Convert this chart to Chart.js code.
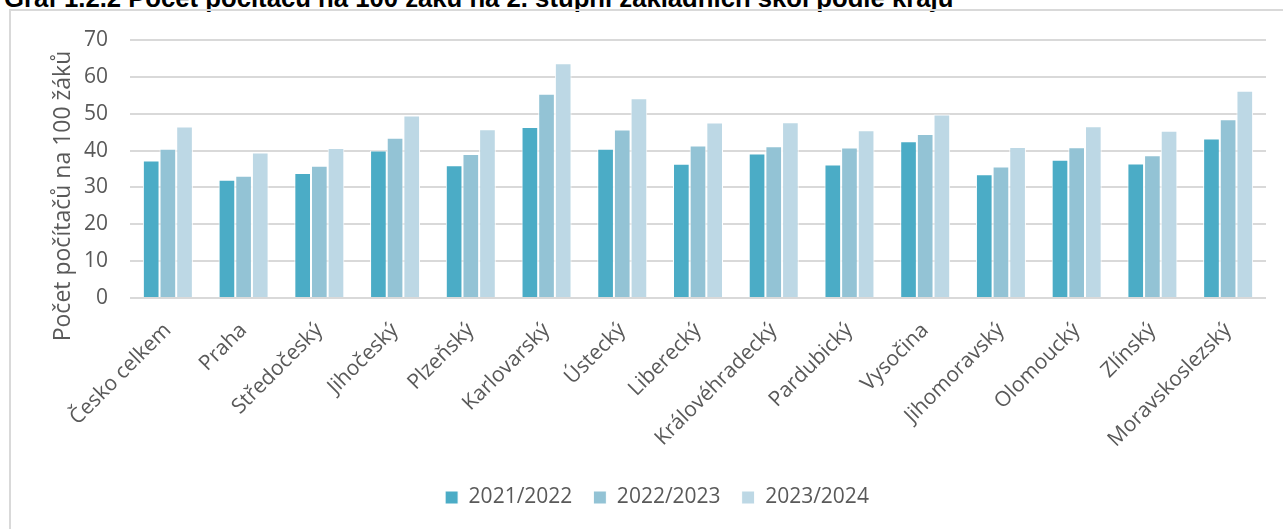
<!DOCTYPE html>
<html>
<head>
<meta charset="utf-8">
<script src="https://cdn.jsdelivr.net/npm/chart.js@4.4.0/dist/chart.umd.min.js"></script>
<style>
  html, body { margin: 0; padding: 0; background: #fff; overflow: hidden; }
  #title {
    position: absolute; left: 4px; top: -16px; white-space: nowrap; line-height: 25px;
    font: bold 25.7px "Liberation Sans", Arial, sans-serif; color: #000;
  }
  #frame {
    position: absolute; left: 9px; top: 9px; width: 1300px; height: 540px;
    border: 2px solid #d9d9d9;
  }
  #wrap { position: absolute; left: 0; top: 0; width: 1283px; height: 529px; }
</style>
</head>
<body>
<div id="title">Graf 1.2.2 Počet počítačů na 100 žáků na 2. stupni základních škol podle krajů</div>
<div id="frame"></div>
<div id="wrap"><canvas id="chart"></canvas></div>
<script>
// categories and series
const regions = ["Česko celkem", "Praha", "Středočeský", "Jihočeský", "Plzeňský", "Karlovarský",
    "Ústecký", "Liberecký", "Královéhradecký", "Pardubický", "Vysočina", "Jihomoravský",
    "Olomoucký", "Zlínský", "Moravskoslezský"];
const years = ["2021/2022", "2022/2023", "2023/2024"];
const values2122 = [37.3, 32.1, 33.9, 40.0, 36.0, 46.4, 40.5, 36.4, 39.2, 36.2, 42.5, 33.6, 37.5, 36.5, 43.3];
const values2223 = [40.5, 33.2, 35.9, 43.5, 39.1, 55.4, 45.7, 41.4, 41.2, 40.8, 44.5, 35.7, 40.9, 38.7, 48.5];
const values2324 = [46.5, 39.5, 40.7, 49.5, 45.8, 63.7, 54.2, 47.6, 47.7, 45.5, 49.8, 41.0, 46.6, 45.4, 56.2];
const yTicks = [0, 10, 20, 30, 40, 50, 60, 70];
const yTitle = "Počet počítačů na 100 žáků";

const colors = ["#4bacc6", "#93c3d5", "#bdd8e5"];
const grey = "#595959";
const fontFamily = '"Open Sans", "Noto Sans", sans-serif';

// y axis title drawn at the spot used in the reference (not centered on the plot)
const yTitlePlugin = {
    id: 'yTitle',
    afterDraw(chart) {
        const ctx = chart.ctx;
        ctx.save();
        ctx.translate(63, 196);
        ctx.rotate(-Math.PI / 2);
        ctx.font = '23px ' + fontFamily;
        ctx.fillStyle = grey;
        ctx.textAlign = 'center';
        ctx.textBaseline = 'middle';
        ctx.fillText(yTitle, 0, 0);
        ctx.restore();
    }
};

const seriesValues = [values2122, values2223, values2324];

new Chart(document.getElementById('chart').getContext('2d'), {
    type: 'bar',
    data: {
        labels: regions,
        datasets: years.map((y, i) => ({
            label: y,
            data: seriesValues[i],
            backgroundColor: colors[i],
            borderColor: '#ffffff',
            borderWidth: 1,
            borderSkipped: 'bottom',
            categoryPercentage: 0.66,
            barPercentage: 1.0
        }))
    },
    options: {
        responsive: true,
        maintainAspectRatio: false,
        animation: false,
        // left padding pushes the legend centre right; y axis width keeps the plot at x=130
        layout: { padding: { left: 48, right: 17, top: 40, bottom: 11 } },
        plugins: {
            legend: {
                position: 'bottom',
                labels: {
                    boxWidth: 13,
                    boxHeight: 13,
                    padding: 21,
                    color: grey,
                    font: { family: fontFamily, size: 21 }
                }
            },
            tooltip: { enabled: false }
        },
        scales: {
            x: {
                grid: { display: false },
                border: { display: false },
                ticks: {
                    color: grey,
                    font: { family: fontFamily, size: 21 },
                    maxRotation: 45,
                    minRotation: 45,
                    padding: 12
                },
                afterFit(scale) { scale.height = 168; }
            },
            y: {
                min: 0,
                max: 70,
                afterBuildTicks(scale) { scale.ticks = yTicks.map(v => ({ value: v })); },
                grid: { color: '#d9d9d9', lineWidth: 2, drawTicks: false },
                border: { display: false },
                ticks: {
                    color: grey,
                    font: { family: fontFamily, size: 21 },
                    padding: 22
                },
                afterFit(scale) { scale.width = 82; }
            }
        }
    },
    plugins: [yTitlePlugin]
});
</script>
</body>
</html>
